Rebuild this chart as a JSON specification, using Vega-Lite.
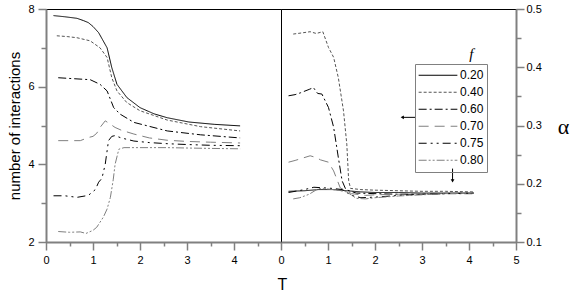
{
  "$schema": "https://vega.github.io/schema/vega-lite/v6.json",
  "autosize": {"type": "pad"},
  "padding": {"left": 7, "top": 2, "right": 0, "bottom": 0},
  "background": "white",
  "spacing": 0,
  "bounds": "flush",
  "config": {
    "view": {"stroke": "black", "strokeWidth": 1},
    "concat": {"spacing": 0},
    "axis": {"labelFont": "Liberation Sans", "titleFont": "Liberation Sans", "labelFontSize": 11, "labelColor": "black", "titleFontWeight": "normal", "domainColor": "#808080", "domainWidth": 2, "tickColor": "#808080", "tickWidth": 1.5, "grid": false, "labelFlush": false, "labelOverlap": false}
  },
  "datasets": {
    "inter": [
      {"f": "0.20", "T": 0.16, "n": 7.83}, {"f": "0.20", "T": 0.4, "n": 7.8}, {"f": "0.20", "T": 0.66, "n": 7.76}, {"f": "0.20", "T": 0.8, "n": 7.7}, {"f": "0.20", "T": 0.9, "n": 7.65}, {"f": "0.20", "T": 1.0, "n": 7.55}, {"f": "0.20", "T": 1.12, "n": 7.39}, {"f": "0.20", "T": 1.3, "n": 7.0}, {"f": "0.20", "T": 1.4, "n": 6.49}, {"f": "0.20", "T": 1.51, "n": 6.06}, {"f": "0.20", "T": 1.72, "n": 5.72}, {"f": "0.20", "T": 2.0, "n": 5.46}, {"f": "0.20", "T": 2.3, "n": 5.3}, {"f": "0.20", "T": 2.58, "n": 5.2}, {"f": "0.20", "T": 3.04, "n": 5.09}, {"f": "0.20", "T": 3.58, "n": 5.03}, {"f": "0.20", "T": 4.13, "n": 4.99},
      {"f": "0.40", "T": 0.23, "n": 7.31}, {"f": "0.40", "T": 0.45, "n": 7.29}, {"f": "0.40", "T": 0.66, "n": 7.26}, {"f": "0.40", "T": 0.94, "n": 7.18}, {"f": "0.40", "T": 1.15, "n": 7.0}, {"f": "0.40", "T": 1.3, "n": 6.75}, {"f": "0.40", "T": 1.4, "n": 6.23}, {"f": "0.40", "T": 1.51, "n": 5.89}, {"f": "0.40", "T": 1.72, "n": 5.59}, {"f": "0.40", "T": 2.0, "n": 5.38}, {"f": "0.40", "T": 2.58, "n": 5.14}, {"f": "0.40", "T": 3.29, "n": 4.97}, {"f": "0.40", "T": 4.13, "n": 4.86},
      {"f": "0.60", "T": 0.26, "n": 6.23}, {"f": "0.60", "T": 0.66, "n": 6.2}, {"f": "0.60", "T": 0.94, "n": 6.18}, {"f": "0.60", "T": 1.15, "n": 6.06}, {"f": "0.60", "T": 1.3, "n": 5.89}, {"f": "0.60", "T": 1.44, "n": 5.46}, {"f": "0.60", "T": 1.58, "n": 5.29}, {"f": "0.60", "T": 1.87, "n": 5.08}, {"f": "0.60", "T": 2.58, "n": 4.86}, {"f": "0.60", "T": 3.29, "n": 4.76}, {"f": "0.60", "T": 4.13, "n": 4.68},
      {"f": "0.70", "T": 0.26, "n": 4.61}, {"f": "0.70", "T": 0.5, "n": 4.61}, {"f": "0.70", "T": 0.73, "n": 4.61}, {"f": "0.70", "T": 0.9, "n": 4.69}, {"f": "0.70", "T": 1.0, "n": 4.72}, {"f": "0.70", "T": 1.08, "n": 4.8}, {"f": "0.70", "T": 1.15, "n": 4.95}, {"f": "0.70", "T": 1.26, "n": 5.12}, {"f": "0.70", "T": 1.35, "n": 5.05}, {"f": "0.70", "T": 1.47, "n": 4.95}, {"f": "0.70", "T": 1.6, "n": 4.88}, {"f": "0.70", "T": 1.87, "n": 4.78}, {"f": "0.70", "T": 2.2, "n": 4.68}, {"f": "0.70", "T": 2.58, "n": 4.62}, {"f": "0.70", "T": 3.0, "n": 4.59}, {"f": "0.70", "T": 3.5, "n": 4.57}, {"f": "0.70", "T": 4.13, "n": 4.55},
      {"f": "0.75", "T": 0.16, "n": 3.19}, {"f": "0.75", "T": 0.4, "n": 3.19}, {"f": "0.75", "T": 0.66, "n": 3.15}, {"f": "0.75", "T": 0.9, "n": 3.2}, {"f": "0.75", "T": 1.05, "n": 3.35}, {"f": "0.75", "T": 1.12, "n": 3.54}, {"f": "0.75", "T": 1.19, "n": 3.64}, {"f": "0.75", "T": 1.26, "n": 4.0}, {"f": "0.75", "T": 1.33, "n": 4.61}, {"f": "0.75", "T": 1.4, "n": 4.72}, {"f": "0.75", "T": 1.47, "n": 4.74}, {"f": "0.75", "T": 1.6, "n": 4.68}, {"f": "0.75", "T": 1.87, "n": 4.6}, {"f": "0.75", "T": 2.2, "n": 4.56}, {"f": "0.75", "T": 2.6, "n": 4.53}, {"f": "0.75", "T": 3.0, "n": 4.51}, {"f": "0.75", "T": 3.5, "n": 4.49}, {"f": "0.75", "T": 4.13, "n": 4.48},
      {"f": "0.80", "T": 0.26, "n": 2.27}, {"f": "0.80", "T": 0.5, "n": 2.25}, {"f": "0.80", "T": 0.73, "n": 2.26}, {"f": "0.80", "T": 0.85, "n": 2.22}, {"f": "0.80", "T": 1.0, "n": 2.3}, {"f": "0.80", "T": 1.08, "n": 2.38}, {"f": "0.80", "T": 1.22, "n": 2.64}, {"f": "0.80", "T": 1.3, "n": 2.85}, {"f": "0.80", "T": 1.37, "n": 3.15}, {"f": "0.80", "T": 1.43, "n": 3.6}, {"f": "0.80", "T": 1.47, "n": 4.0}, {"f": "0.80", "T": 1.55, "n": 4.39}, {"f": "0.80", "T": 1.66, "n": 4.43}, {"f": "0.80", "T": 2.0, "n": 4.43}, {"f": "0.80", "T": 2.58, "n": 4.43}, {"f": "0.80", "T": 3.0, "n": 4.42}, {"f": "0.80", "T": 3.5, "n": 4.41}, {"f": "0.80", "T": 4.13, "n": 4.4}
    ],
    "alpha": [
      {"f": "0.20", "T": 0.16, "alpha": 0.187}, {"f": "0.20", "T": 0.5, "alpha": 0.188}, {"f": "0.20", "T": 0.8, "alpha": 0.19}, {"f": "0.20", "T": 1.1, "alpha": 0.19}, {"f": "0.20", "T": 1.4, "alpha": 0.188}, {"f": "0.20", "T": 1.7, "alpha": 0.186}, {"f": "0.20", "T": 2.0, "alpha": 0.185}, {"f": "0.20", "T": 2.5, "alpha": 0.185}, {"f": "0.20", "T": 3.0, "alpha": 0.184}, {"f": "0.20", "T": 3.5, "alpha": 0.184}, {"f": "0.20", "T": 4.1, "alpha": 0.184},
      {"f": "0.40", "T": 0.26, "alpha": 0.457}, {"f": "0.40", "T": 0.45, "alpha": 0.459}, {"f": "0.40", "T": 0.62, "alpha": 0.461}, {"f": "0.40", "T": 0.75, "alpha": 0.458}, {"f": "0.40", "T": 0.89, "alpha": 0.461}, {"f": "0.40", "T": 1.01, "alpha": 0.434}, {"f": "0.40", "T": 1.12, "alpha": 0.417}, {"f": "0.40", "T": 1.22, "alpha": 0.382}, {"f": "0.40", "T": 1.33, "alpha": 0.325}, {"f": "0.40", "T": 1.4, "alpha": 0.268}, {"f": "0.40", "T": 1.44, "alpha": 0.205}, {"f": "0.40", "T": 1.48, "alpha": 0.192}, {"f": "0.40", "T": 1.7, "alpha": 0.19}, {"f": "0.40", "T": 2.0, "alpha": 0.189}, {"f": "0.40", "T": 2.5, "alpha": 0.188}, {"f": "0.40", "T": 3.0, "alpha": 0.187}, {"f": "0.40", "T": 3.5, "alpha": 0.187}, {"f": "0.40", "T": 4.1, "alpha": 0.186},
      {"f": "0.60", "T": 0.16, "alpha": 0.351}, {"f": "0.60", "T": 0.3, "alpha": 0.353}, {"f": "0.60", "T": 0.41, "alpha": 0.356}, {"f": "0.60", "T": 0.6, "alpha": 0.362}, {"f": "0.60", "T": 0.69, "alpha": 0.365}, {"f": "0.60", "T": 0.78, "alpha": 0.355}, {"f": "0.60", "T": 0.87, "alpha": 0.354}, {"f": "0.60", "T": 1.01, "alpha": 0.331}, {"f": "0.60", "T": 1.12, "alpha": 0.297}, {"f": "0.60", "T": 1.22, "alpha": 0.245}, {"f": "0.60", "T": 1.3, "alpha": 0.205}, {"f": "0.60", "T": 1.38, "alpha": 0.19}, {"f": "0.60", "T": 1.6, "alpha": 0.184}, {"f": "0.60", "T": 2.0, "alpha": 0.183}, {"f": "0.60", "T": 2.5, "alpha": 0.182}, {"f": "0.60", "T": 3.0, "alpha": 0.182}, {"f": "0.60", "T": 3.5, "alpha": 0.183}, {"f": "0.60", "T": 4.1, "alpha": 0.183},
      {"f": "0.70", "T": 0.16, "alpha": 0.237}, {"f": "0.70", "T": 0.3, "alpha": 0.24}, {"f": "0.70", "T": 0.62, "alpha": 0.248}, {"f": "0.70", "T": 0.75, "alpha": 0.245}, {"f": "0.70", "T": 0.84, "alpha": 0.241}, {"f": "0.70", "T": 1.01, "alpha": 0.237}, {"f": "0.70", "T": 1.12, "alpha": 0.222}, {"f": "0.70", "T": 1.26, "alpha": 0.193}, {"f": "0.70", "T": 1.5, "alpha": 0.183}, {"f": "0.70", "T": 1.8, "alpha": 0.18}, {"f": "0.70", "T": 2.0, "alpha": 0.181}, {"f": "0.70", "T": 2.5, "alpha": 0.182}, {"f": "0.70", "T": 3.0, "alpha": 0.183}, {"f": "0.70", "T": 3.5, "alpha": 0.184}, {"f": "0.70", "T": 4.1, "alpha": 0.184},
      {"f": "0.75", "T": 0.16, "alpha": 0.185}, {"f": "0.75", "T": 0.3, "alpha": 0.187}, {"f": "0.75", "T": 0.5, "alpha": 0.19}, {"f": "0.75", "T": 0.7, "alpha": 0.194}, {"f": "0.75", "T": 0.9, "alpha": 0.193}, {"f": "0.75", "T": 1.1, "alpha": 0.192}, {"f": "0.75", "T": 1.3, "alpha": 0.19}, {"f": "0.75", "T": 1.5, "alpha": 0.18}, {"f": "0.75", "T": 1.7, "alpha": 0.176}, {"f": "0.75", "T": 2.0, "alpha": 0.177}, {"f": "0.75", "T": 2.5, "alpha": 0.18}, {"f": "0.75", "T": 3.0, "alpha": 0.182}, {"f": "0.75", "T": 3.5, "alpha": 0.183}, {"f": "0.75", "T": 4.1, "alpha": 0.184},
      {"f": "0.80", "T": 0.26, "alpha": 0.174}, {"f": "0.80", "T": 0.4, "alpha": 0.176}, {"f": "0.80", "T": 0.6, "alpha": 0.182}, {"f": "0.80", "T": 0.8, "alpha": 0.192}, {"f": "0.80", "T": 1.0, "alpha": 0.191}, {"f": "0.80", "T": 1.2, "alpha": 0.189}, {"f": "0.80", "T": 1.4, "alpha": 0.186}, {"f": "0.80", "T": 1.6, "alpha": 0.175}, {"f": "0.80", "T": 1.8, "alpha": 0.174}, {"f": "0.80", "T": 2.0, "alpha": 0.176}, {"f": "0.80", "T": 2.5, "alpha": 0.179}, {"f": "0.80", "T": 3.0, "alpha": 0.181}, {"f": "0.80", "T": 3.5, "alpha": 0.183}, {"f": "0.80", "T": 4.1, "alpha": 0.184}
    ],
    "arrows": [
      {"T": 2.58, "T2": 2.86, "alpha": 0.314, "alpha2": 0.314, "shape": "triangle-left"},
      {"T": 3.65, "T2": 3.65, "alpha": 0.205, "alpha2": 0.226, "shape": "triangle-down"}
    ],
    "ftitle": [{"T": 4.05, "alpha": 0.423, "label": "f"}]
  },
  "resolve": {"legend": {"color": "independent", "strokeDash": "independent"}},
  "hconcat": [
    {
      "width": 235, "height": 233,
      "data": {"name": "inter"},
      "mark": {"type": "line", "strokeWidth": 1},
      "encoding": {
        "x": {"field": "T", "type": "quantitative", "scale": {"domain": [0, 5], "nice": false},
          "axis": {"values": [0, 0.5, 1, 1.5, 2, 2.5, 3, 3.5, 4, 4.5], "labelExpr": "datum.value % 1 === 0 ? format(datum.value, 'd') : ''",
            "tickSize": {"condition": {"test": "datum.value % 1 === 0", "value": 8}, "value": 4}, "labelPadding": 4,
            "title": "T", "titleX": 236, "titleY": 42, "titleBaseline": "middle", "titleAlign": "center", "titleFontSize": 16}},
        "y": {"field": "n", "type": "quantitative", "scale": {"domain": [2, 8], "nice": false, "zero": false},
          "axis": {"values": [2, 3, 4, 5, 6, 7, 8], "labelExpr": "datum.value % 2 === 0 ? format(datum.value, 'd') : ''",
            "tickSize": {"condition": {"test": "datum.value % 2 === 0", "value": 8}, "value": 5}, "labelPadding": 4,
            "title": "number of interactions", "titleFontSize": 15, "titlePadding": 5}},
        "color": {"field": "f", "type": "nominal", "scale": {"domain": ["0.20", "0.40", "0.60", "0.70", "0.75", "0.80"], "range": ["#000000", "#555555", "#000000", "#808080", "#000000", "#808080"]}, "legend": null},
        "strokeDash": {"field": "f", "type": "nominal", "scale": {"domain": ["0.20", "0.40", "0.60", "0.70", "0.75", "0.80"], "range": [[1, 0], [3, 2], [8, 3, 2, 3], [10, 6], [8, 4, 2, 4, 2, 4], [8, 2, 2, 2, 2, 2]]}, "legend": null}
      }
    },
    {
      "width": 235, "height": 233,
      "encoding": {
        "x": {"field": "T", "type": "quantitative", "scale": {"domain": [0, 5], "nice": false},
          "axis": {"values": [0, 0.5, 1, 1.5, 2, 2.5, 3, 3.5, 4, 4.5, 5], "labelExpr": "datum.value % 1 === 0 ? format(datum.value, 'd') : ''",
            "tickSize": {"condition": {"test": "datum.value % 1 === 0", "value": 8}, "value": 4}, "labelPadding": 4, "title": null}},
        "y": {"field": "alpha", "type": "quantitative", "scale": {"domain": [0.1, 0.5], "nice": false, "zero": false},
          "axis": {"orient": "right", "values": [0.1, 0.15, 0.2, 0.25, 0.3, 0.35, 0.4, 0.45, 0.5], "labelExpr": "round(datum.value * 20) % 2 === 0 ? format(datum.value, '.1f') : ''",
            "tickSize": {"condition": {"test": "round(datum.value * 20) % 2 === 0", "value": 8}, "value": 5}, "labelPadding": 2,
            "title": "α", "titleFont": "Liberation Serif", "titleFontSize": 22, "titleAngle": 0, "titleBaseline": "middle", "titleAlign": "center", "titleX": 47, "titleY": 117}}
      },
      "layer": [
        {
          "data": {"name": "alpha"},
          "mark": {"type": "line", "strokeWidth": 1},
          "encoding": {
            "color": {"field": "f", "type": "nominal", "scale": {"domain": ["0.20", "0.40", "0.60", "0.70", "0.75", "0.80"], "range": ["#000000", "#555555", "#000000", "#808080", "#000000", "#808080"]},
              "legend": {"orient": "none", "legendX": 134, "legendY": 55, "title": null, "symbolType": "stroke", "symbolSize": 1500, "clipHeight": 16.5, "symbolStrokeWidth": 1.2, "labelFont": "Liberation Sans", "labelFontSize": 12, "labelColor": "black", "labelOffset": 2, "strokeColor": "#808080", "padding": 3, "rowPadding": 0}},
            "strokeDash": {"field": "f", "type": "nominal", "scale": {"domain": ["0.20", "0.40", "0.60", "0.70", "0.75", "0.80"], "range": [[1, 0], [3, 2], [8, 3, 2, 3], [10, 6], [8, 4, 2, 4, 2, 4], [8, 2, 2, 2, 2, 2]]},
              "legend": {"orient": "none", "legendX": 134, "legendY": 55, "title": null, "symbolType": "stroke", "symbolSize": 1500, "clipHeight": 16.5, "symbolStrokeWidth": 1.2, "labelFont": "Liberation Sans", "labelFontSize": 12, "labelColor": "black", "labelOffset": 2, "strokeColor": "#808080", "padding": 3, "rowPadding": 0}}
          }
        },
        {
          "data": {"name": "arrows"},
          "mark": {"type": "rule", "color": "black", "strokeWidth": 1},
          "encoding": {"x2": {"field": "T2"}, "y2": {"field": "alpha2"}}
        },
        {
          "data": {"name": "arrows"},
          "mark": {"type": "point", "filled": true, "color": "black", "size": 14, "opacity": 1},
          "encoding": {"shape": {"field": "shape", "type": "nominal", "scale": null}}
        },
        {
          "data": {"name": "ftitle"},
          "mark": {"type": "text", "font": "Liberation Serif", "fontStyle": "italic", "fontSize": 15, "color": "black"},
          "encoding": {"text": {"field": "label"}}
        }
      ]
    }
  ]
}
